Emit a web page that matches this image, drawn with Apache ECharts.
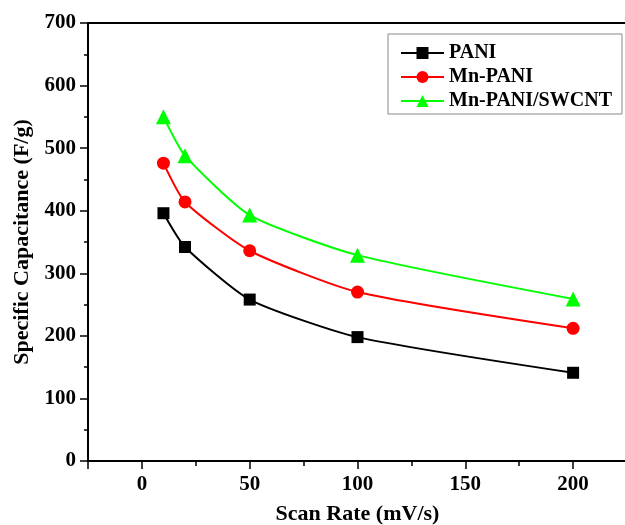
<!DOCTYPE html>
<html>
<head>
<meta charset="utf-8">
<script src="https://cdn.jsdelivr.net/npm/echarts@6/dist/echarts.min.js"></script>
<style>
  html, body { margin: 0; padding: 0; background: #fff; }
  #chart { width: 625px; height: 525px; }
</style>
</head>
<body>
<div id="chart"></div>
<script>
// scan rates (mV/s)
const scanRates = [10, 20, 50, 100, 200];
// specific capacitance (F/g)
const pani = [396, 342, 258, 198, 141];
const mnPani = [476, 414, 336, 270, 212];
const mnPaniSwcnt = [550, 488, 393, 329, 259];

const seriesNames = ['PANI', 'Mn-PANI', 'Mn-PANI/SWCNT'];
const colors = ['#000000', '#ff0000', '#00ff00'];
const symbols = ['rect', 'circle', 'triangle'];
const symbolSizes = [12, 13, 15];

const font = 'Liberation Serif';

const chart = echarts.init(document.getElementById('chart'));

const toPairs = (vals) => scanRates.map((x, i) => [x, vals[i]]);
const allValues = [pani, mnPani, mnPaniSwcnt];

const option = {
  backgroundColor: '#fff',
  animation: false,
  grid: { left: 88, top: 23, right: -2, bottom: 64, containLabel: false, outerBoundsMode: 'none' },
  legend: {
    orient: 'vertical',
    left: 388,
    top: 34,
    padding: [9, 10, 3, 12],
    itemWidth: 43,
    itemHeight: 15,
    itemGap: 4,
    borderColor: '#888',
    borderWidth: 1,
    textStyle: { fontFamily: font, fontWeight: 'bold', fontSize: 20, color: '#000', lineHeight: 20 },
    data: seriesNames
  },
  xAxis: [
    {
      type: 'value',
      position: 'bottom',
      min: -25,
      max: 225,
      splitNumber: 5,
      name: 'Scan Rate (mV/s)',
      nameLocation: 'middle',
      nameGap: 42,
      nameTextStyle: { fontFamily: font, fontWeight: 'bold', fontSize: 22, color: '#000' },
      axisLine: { show: true, onZero: false, lineStyle: { color: '#000', width: 2 } },
      axisTick: { show: true, inside: false, length: 8, lineStyle: { color: '#000', width: 1.5 } },
      minorTick: { show: true, splitNumber: 2, length: 5, lineStyle: { color: '#000', width: 1.5 } },
      axisLabel: {
        margin: 13,
        showMinLabel: false,
        showMaxLabel: false,
        fontFamily: font, fontWeight: 'bold', fontSize: 21, color: '#000',
        formatter: (v) => (v % 50 === 0 ? String(v) : '')
      },
      splitLine: { show: false }
    },
    {
      type: 'value',
      position: 'top',
      min: -25,
      max: 225,
      axisLine: { show: true, onZero: false, lineStyle: { color: '#000', width: 2 } },
      axisTick: { show: false },
      axisLabel: { show: false },
      splitLine: { show: false }
    }
  ],
  yAxis: {
    type: 'value',
    min: 0,
    max: 700,
    interval: 100,
    name: 'Specific Capacitance (F/g)',
    nameLocation: 'middle',
    nameGap: 54,
    nameTextStyle: { fontFamily: font, fontWeight: 'bold', fontSize: 22, color: '#000' },
    axisLine: { show: true, onZero: false, lineStyle: { color: '#000', width: 2 } },
    axisTick: { show: true, inside: false, length: 8, lineStyle: { color: '#000', width: 1.5 } },
    minorTick: { show: true, splitNumber: 2, length: 4, lineStyle: { color: '#000', width: 1.5 } },
    axisLabel: { margin: 12, fontFamily: font, fontWeight: 'bold', fontSize: 21, color: '#000' },
    splitLine: { show: false }
  },
  series: seriesNames.map((name, i) => ({
    name: name,
    type: 'line',
    data: toPairs(allValues[i]),
    smooth: 0.2,
    symbol: symbols[i],
    symbolSize: symbolSizes[i],
    itemStyle: { color: colors[i] },
    lineStyle: { color: colors[i], width: 2 },
    z: 3 + i
  }))
};

chart.setOption(option);
</script>
</body>
</html>
